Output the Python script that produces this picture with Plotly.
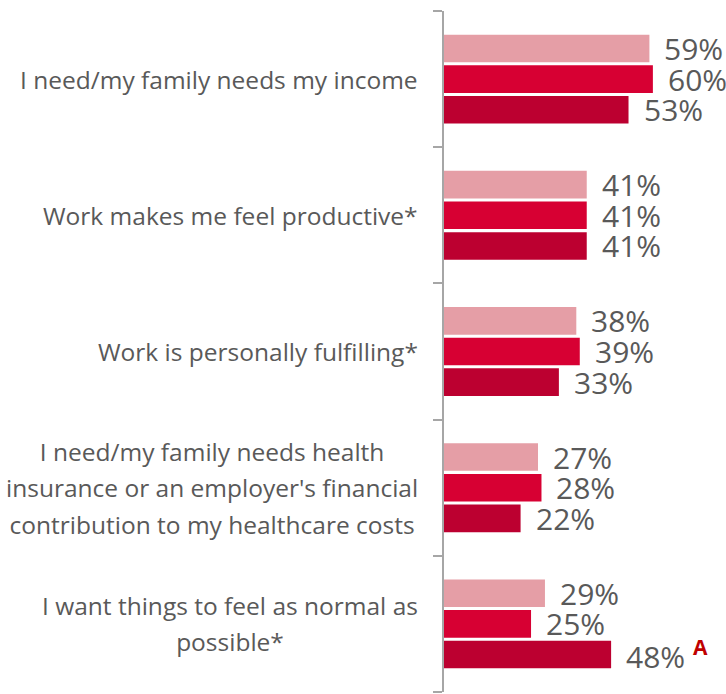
import plotly.graph_objects as go

# Reasons for continuing to work, three respondent groups per reason
categories = [
    "I need/my family needs my income",
    "Work makes me feel productive*",
    "Work is personally fulfilling*",
    "I need/my family needs health<br>insurance or an employer's financial<br>contribution to my healthcare costs",
    "I want things to feel as normal as<br>possible*",
]
group_a = [59, 41, 38, 27, 29]
group_b = [60, 41, 39, 28, 25]
group_c = [53, 41, 33, 22, 48]
series = [group_a, group_b, group_c]
colors = ["#E59EA6", "#D70033", "#BC0030"]
# significance markers per series/category ("" = none)
sig_c = ["", "", "", "", "A"]
sig = [[""] * 5, [""] * 5, sig_c]

TEXT = "#595959"
FONT = "Open Sans"

fig = go.Figure()
idx = list(range(len(categories)))
for vals, col in zip(series, colors):
    fig.add_trace(go.Bar(
        y=idx, x=vals, orientation="h",
        marker=dict(color=col, line=dict(width=0)),
        hoverinfo="skip", showlegend=False,
    ))

bargap = 0.325
slot = (1 - bargap) / 3
annotations = []
for s, (vals, marks) in enumerate(zip(series, sig)):
    off = (s - 1) * slot
    for i, (v, m) in enumerate(zip(vals, marks)):
        txt = f"{v}%"
        if m:
            txt += f" <sup><span style='color:#C00000'><b>{m}</b></span></sup>"
        annotations.append(dict(
            x=v, y=i + off, xref="x", yref="y", text=txt,
            showarrow=False, xanchor="left", yanchor="middle", xshift=13,
            font=dict(family=FONT, size=30, color=TEXT),
        ))

# category labels, centred lines, right-aligned block left of the axis
for i, c in enumerate(categories):
    lines = c.split("<br>")
    txt = "<br>".join(f"<span style='font-size:24.5px'>{ln}</span>" for ln in lines)
    annotations.append(dict(
        x=0, y=i, xref="paper", yref="y", text=txt, align="center",
        showarrow=False, xanchor="right", yanchor="middle", xshift=-24,
        font=dict(family=FONT, size=28, color=TEXT),
    ))

fig.update_layout(
    width=726, height=694,
    margin=dict(l=444, r=0, t=11, b=2),
    paper_bgcolor="white", plot_bgcolor="white",
    barmode="group", bargap=bargap, bargroupgap=0.1,
    annotations=annotations,
    xaxis=dict(range=[0, 81], visible=False, fixedrange=True),
    yaxis=dict(
        range=[len(categories) - 0.5, -0.5],
        tickvals=[k - 0.5 for k in range(len(categories) + 1)],
        showticklabels=False, ticks="outside", ticklen=9, tickwidth=1.5,
        tickcolor="#A6A6A6", showline=True, linecolor="#A6A6A6", linewidth=1.5,
        showgrid=False, zeroline=False, fixedrange=True,
    ),
)

fig.write_html("out.html")
